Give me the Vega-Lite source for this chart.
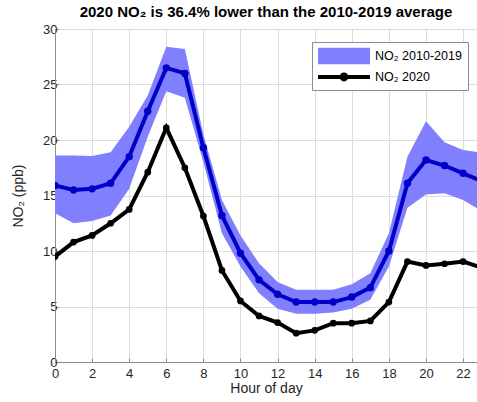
{
  "$schema": "https://vega.github.io/schema/vega-lite/v6.json",
  "width": 422,
  "height": 333,
  "autosize": {"type": "none"},
  "padding": {"left": 55, "top": 29, "right": 0, "bottom": 40},
  "background": "white",
  "title": {"text": "2020 NO₂ is 36.4% lower than the 2010-2019 average", "font": "Liberation Sans", "fontSize": 15, "fontWeight": "bold", "color": "#000000", "offset": 3},
  "config": {
    "view": {"stroke": null},
    "axis": {"labelFont": "Liberation Sans", "titleFont": "Liberation Sans", "labelFontSize": 13, "titleFontSize": 14, "labelColor": "#262626", "titleColor": "#262626", "titleFontWeight": "normal", "domainColor": "#8c8c8c", "tickColor": "#8c8c8c", "gridColor": "#dcdcdc", "gridWidth": 1, "domainWidth": 1},
    "legend": {
      "title": null, "orient": "none", "legendX": 257, "legendY": 13,
      "fillColor": "white", "strokeColor": "#8c8c8c", "padding": 6,
      "labelFont": "Liberation Sans", "labelFontSize": 12.5, "labelColor": "#000000",
      "symbolSize": 256, "symbolStrokeWidth": 0, "symbolOpacity": 1, "symbolOffset": 18, "labelOffset": 23, "rowPadding": 4
    }
  },
  "data": {"values": [
    {"hour": 0, "lo": 13.4, "hi": 18.6, "mean": 15.9, "y2020": 9.5},
    {"hour": 1, "lo": 12.5, "hi": 18.6, "mean": 15.5, "y2020": 10.8},
    {"hour": 2, "lo": 12.7, "hi": 18.55, "mean": 15.6, "y2020": 11.4},
    {"hour": 3, "lo": 13.2, "hi": 18.9, "mean": 16.1, "y2020": 12.5},
    {"hour": 4, "lo": 15.6, "hi": 21.2, "mean": 18.5, "y2020": 13.75},
    {"hour": 5, "lo": 20.3, "hi": 24.0, "mean": 22.6, "y2020": 17.1},
    {"hour": 6, "lo": 24.4, "hi": 28.4, "mean": 26.5, "y2020": 21.1},
    {"hour": 7, "lo": 23.8, "hi": 28.2, "mean": 26.0, "y2020": 17.5},
    {"hour": 8, "lo": 18.0, "hi": 20.5, "mean": 19.3, "y2020": 13.15},
    {"hour": 9, "lo": 11.6, "hi": 14.6, "mean": 13.2, "y2020": 8.25},
    {"hour": 10, "lo": 8.6, "hi": 11.4, "mean": 9.8, "y2020": 5.5},
    {"hour": 11, "lo": 6.2, "hi": 8.9, "mean": 7.4, "y2020": 4.15},
    {"hour": 12, "lo": 4.8, "hi": 7.2, "mean": 6.1, "y2020": 3.55},
    {"hour": 13, "lo": 4.35, "hi": 6.5, "mean": 5.4, "y2020": 2.6},
    {"hour": 14, "lo": 4.35, "hi": 6.5, "mean": 5.4, "y2020": 2.85},
    {"hour": 15, "lo": 4.45, "hi": 6.5, "mean": 5.4, "y2020": 3.5},
    {"hour": 16, "lo": 4.8, "hi": 7.0, "mean": 5.85, "y2020": 3.5},
    {"hour": 17, "lo": 5.6, "hi": 8.0, "mean": 6.7, "y2020": 3.7},
    {"hour": 18, "lo": 8.6, "hi": 11.6, "mean": 10.0, "y2020": 5.4},
    {"hour": 19, "lo": 13.9, "hi": 18.5, "mean": 16.1, "y2020": 9.05},
    {"hour": 20, "lo": 15.1, "hi": 21.7, "mean": 18.2, "y2020": 8.7},
    {"hour": 21, "lo": 15.2, "hi": 19.8, "mean": 17.7, "y2020": 8.85},
    {"hour": 22, "lo": 14.6, "hi": 19.1, "mean": 17.0, "y2020": 9.05},
    {"hour": 23, "lo": 13.6, "hi": 18.85, "mean": 16.3, "y2020": 8.5}
  ]},
  "encoding": {
    "x": {"field": "hour", "type": "quantitative", "scale": {"domain": [0, 22.75], "nice": false, "zero": false},
      "axis": {"title": "Hour of day", "values": [0, 2, 4, 6, 8, 10, 12, 14, 16, 18, 20, 22], "tickSize": -4, "labelPadding": 9, "titlePadding": 1, "labelFlush": false}}
  },
  "layer": [
    {
      "mark": {"type": "area", "clip": true, "opacity": 1},
      "encoding": {
        "y": {"field": "lo", "type": "quantitative", "scale": {"domain": [0, 30], "nice": false},
          "axis": {"title": "NO₂ (ppb)", "values": [0, 5, 10, 15, 20, 25, 30], "tickSize": -4, "labelPadding": 2, "titlePadding": 17}},
        "y2": {"field": "hi"},
        "color": {"datum": "NO₂ 2010-2019", "type": "nominal",
          "scale": {"domain": ["NO₂ 2010-2019", "NO₂ 2020"], "range": ["#8080ff", "#000000"]}}
      }
    },
    {
      "mark": {"type": "line", "clip": true, "color": "#0000c8", "strokeWidth": 4, "point": {"filled": true, "size": 55, "color": "#0000c8", "clip": true}},
      "encoding": {"y": {"field": "mean", "type": "quantitative"}}
    },
    {
      "mark": {"type": "line", "clip": true, "strokeWidth": 4, "point": {"filled": true, "size": 45, "clip": true}},
      "encoding": {
        "y": {"field": "y2020", "type": "quantitative"},
        "color": {"datum": "NO₂ 2020", "type": "nominal"}
      }
    },
    {
      "mark": {"type": "point", "opacity": 0, "clip": true},
      "encoding": {
        "y": {"field": "mean", "type": "quantitative"},
        "shape": {"datum": "NO₂ 2020", "type": "nominal",
          "scale": {"domain": ["NO₂ 2010-2019", "NO₂ 2020"],
            "range": ["M-3.25,-1.04H3.25V1.04H-3.25Z", "M-3.25,-0.25H-0.49V0.25H-3.25Z M0.49,-0.25H3.25V0.25H0.49Z M0.55,0A0.55,0.55 0 1,1 -0.55,0A0.55,0.55 0 1,1 0.55,0Z"]}}
      }
    }
  ]
}
